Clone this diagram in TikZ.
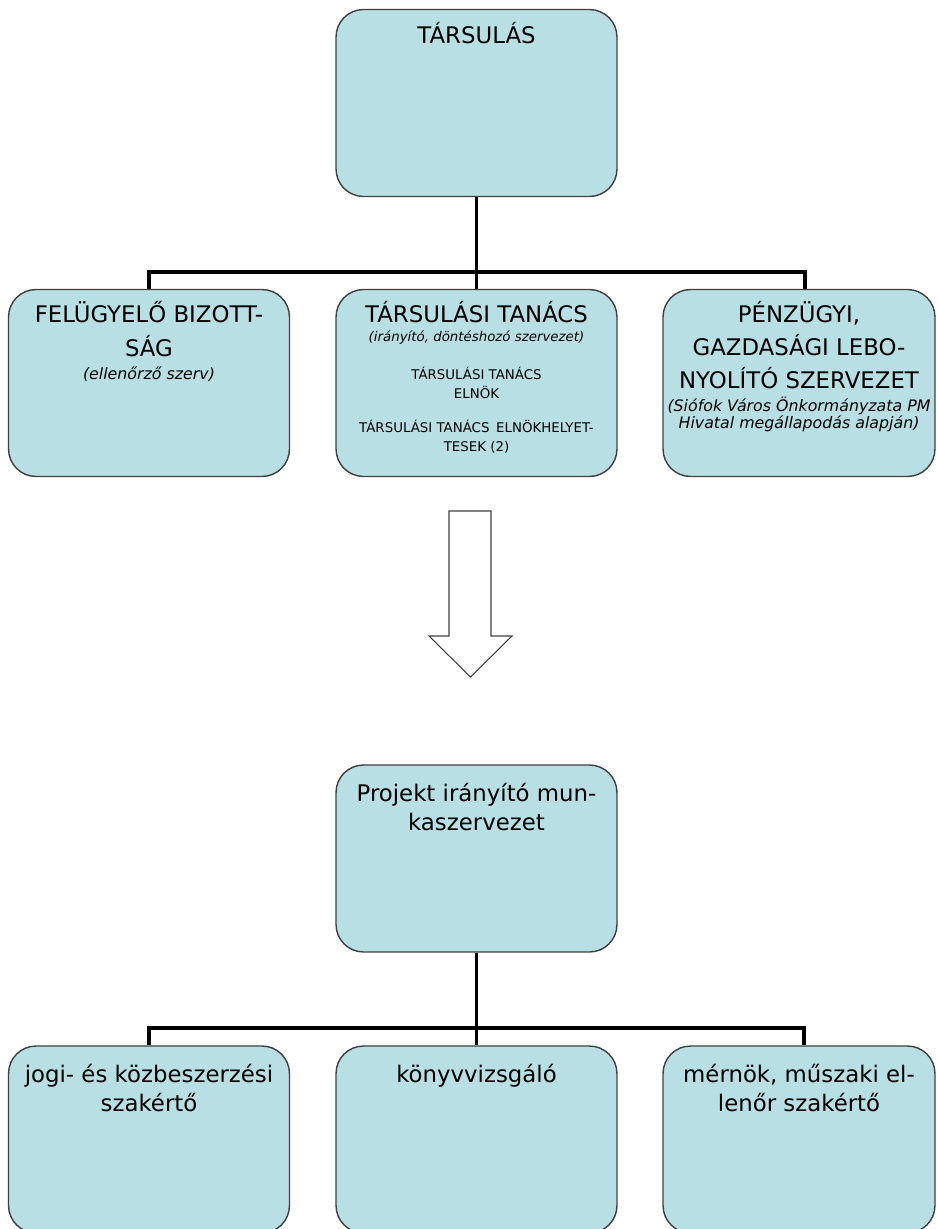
\documentclass[tikz,border=0pt]{standalone}
\usepackage{fontspec}
\setmainfont{DejaVu Sans}
\usetikzlibrary{positioning}
\definecolor{unitfill}{RGB}{184,223,227}
\definecolor{unitdraw}{RGB}{64,64,64}
\tikzset{%
unit/.style={draw=unitdraw,line width=0.8pt,fill=unitfill,rounded corners=0.55cm,
             minimum width=5.62cm,minimum height=3.74cm,inner sep=0pt},
title/.style={font=\fontsize{13}{19}\selectfont,align=center,anchor=base,inner sep=0pt},
lowtitle/.style={title,font=\fontsize{13}{16.8}\selectfont},
note/.style={font=\fontsize{9}{9.6}\selectfont\itshape,align=center,anchor=base,inner sep=0pt},
smallnote/.style={note,font=\fontsize{7.6}{8}\selectfont\itshape},
member/.style={font=\fontsize{7.6}{10.5}\selectfont,align=center,anchor=base,inner sep=0pt},
bus/.style={draw,line width=2.2pt},
bigarrow/.style={draw=unitdraw,line width=0.6pt,fill=white}
}
\begin{document}
\begin{tikzpicture}[x=0.02cm,y=-0.02cm]
\useasboundingbox (0,0) rectangle (937,1229);
% upper chart
\node[unit]                     (tars)   at (476.5,103) {};
\node[unit]                     (felb)   at (149,383)   {};
\node[unit]                     (tanacs) at (476.5,383) {};
\node[unit,minimum width=5.44cm] (penz)  at (799,383)   {};

% (base = last line of a node)
\node[title,yshift=-0.7cm]      (tarst)   at (tars.north)   {TÁRSULÁS};
\node[title,yshift=-1.35cm]     (felbt)   at (felb.north)   {FELÜGYELŐ BIZOTT-\\SÁG};
\node[note,yshift=-1.82cm]      (felbn)   at (felb.north)   {(ellenőrző szerv)};
\node[title,yshift=-0.68cm]     (tanacst) at (tanacs.north) {TÁRSULÁSI TANÁCS};
\node[smallnote,yshift=-1.06cm] (tanacsn) at (tanacs.north) {(irányító, döntéshozó szervezet)};
\node[member,yshift=-2.19cm]    (elnok)   at (tanacs.north) {TÁRSULÁSI TANÁCS\\ELNÖK};
\node[member,yshift=-3.25cm]    (helyett) at (tanacs.north) {TÁRSULÁSI TANÁCS\enspace ELNÖKHELYET-\\TESEK (2)};
\node[title,yshift=-2.0cm]      (penzt)   at (penz.north)   {PÉNZÜGYI,\\GAZDASÁGI LEBO-\\NYOLÍTÓ SZERVEZET};
\node[note,yshift=-2.8cm]       (penzn)   at (penz.north)   {(Siófok Város Önkormányzata PM\\Hivatal megállapodás alapján)};

\coordinate (busa) at (476.5,272);
\draw[bus] (tars.south) -- (busa);
\draw[bus] (felb.north) |- (busa) -| ([xshift=0.12cm]penz.north);
\draw[bus] (busa) -- (tanacs.north);

% block arrow
\draw[bigarrow] (449,511) -- (491,511) -- (491,636) -- (512,636) -- (470.5,677)
                -- (429,636) -- (449,636) -- cycle;

% lower chart
\node[unit]                     (proj)  at (476.5,858.5)  {};
\node[unit]                     (jogi)  at (149,1139.5)   {};
\node[unit]                     (konyv) at (476.5,1139.5) {};
\node[unit,minimum width=5.44cm] (mern) at (799,1139.5)   {};

\node[lowtitle,yshift=-1.33cm] (projt)  at (proj.north)  {Projekt irányító mun-\\kaszervezet};
\node[lowtitle,yshift=-1.33cm] (jogit)  at (jogi.north)  {jogi- és közbeszerzési\\szakértő};
\node[lowtitle,yshift=-0.74cm] (konyvt) at (konyv.north) {könyvvizsgáló};
\node[lowtitle,yshift=-1.33cm] (mernt)  at (mern.north)  {mérnök, műszaki el-\\lenőr szakértő};

\coordinate (busb) at (476.5,1028);
\draw[bus] (proj.south) -- (busb);
\draw[bus] (jogi.north) |- (busb) -| ([xshift=0.1cm]mern.north);
\draw[bus] (busb) -- (konyv.north);
\end{tikzpicture}
\end{document}
